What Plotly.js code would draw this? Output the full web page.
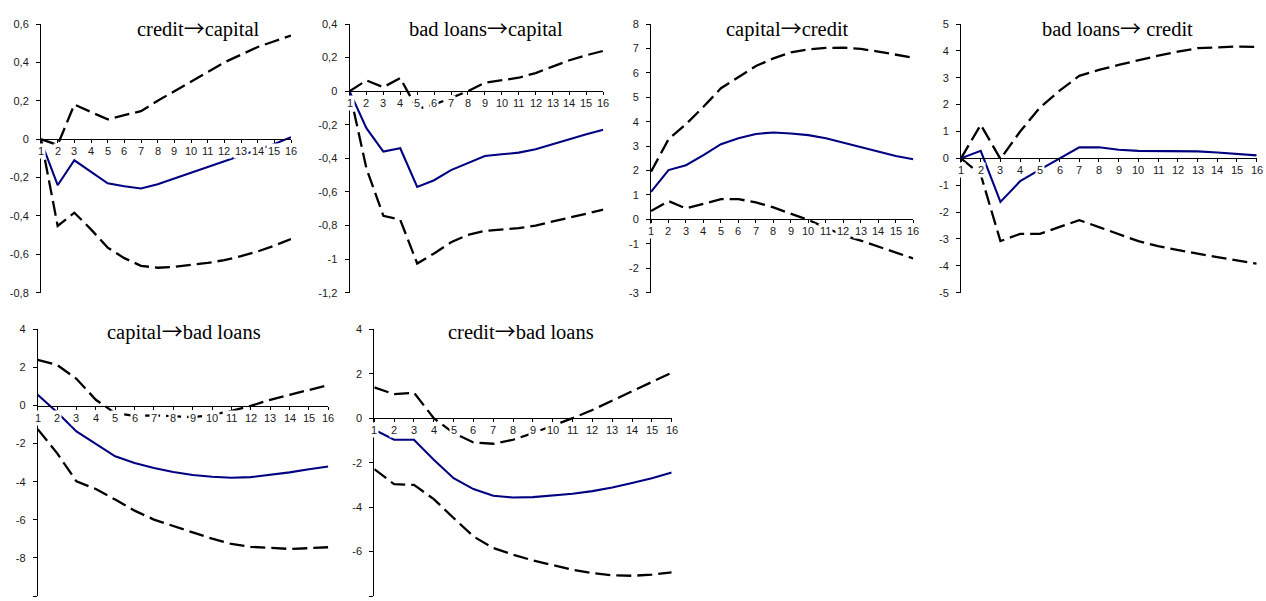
<!DOCTYPE html>
<html>
<head>
<meta charset="utf-8">
<script src="https://cdn.plot.ly/plotly-3.0.1.min.js"></script>
<style>
  html, body { margin: 0; padding: 0; background: #ffffff; }
  #chart { width: 1266px; height: 601px; }
</style>
</head>
<body>
<div id="chart"></div>
<script>
// Impulse responses over 16 periods: point estimate (solid) and confidence bands (dashed)
const periods = [1, 2, 3, 4, 5, 6, 7, 8, 9, 10, 11, 12, 13, 14, 15, 16];

// credit -> capital
const creditCapitalMid = [-0.01, -0.24, -0.11, -0.17, -0.23, -0.245, -0.257, -0.235, -0.205, -0.175, -0.145, -0.115, -0.085, -0.055, -0.025, 0.01];
const creditCapitalUp  = [0, -0.03, 0.18, 0.14, 0.103, 0.125, 0.146, 0.2, 0.25, 0.3, 0.35, 0.4, 0.44, 0.48, 0.51, 0.54];
const creditCapitalLo  = [0, -0.452, -0.383, -0.47, -0.565, -0.62, -0.66, -0.67, -0.665, -0.655, -0.645, -0.63, -0.61, -0.585, -0.555, -0.52];
const creditCapitalTicks = [0.6, 0.4, 0.2, 0, -0.2, -0.4, -0.6, -0.8];

// bad loans -> capital
const badCapitalMid = [0, -0.22, -0.36, -0.34, -0.57, -0.53, -0.47, -0.426, -0.386, -0.376, -0.366, -0.346, -0.316, -0.282, -0.256, -0.23];
const badCapitalUp  = [0, 0.064, 0.024, 0.078, -0.106, -0.08, -0.04, 0, 0.05, 0.064, 0.08, 0.108, 0.148, 0.184, 0.214, 0.24];
const badCapitalLo  = [0, -0.46, -0.742, -0.766, -1.026, -0.966, -0.9, -0.856, -0.832, -0.822, -0.816, -0.8, -0.776, -0.752, -0.73, -0.706];
const badCapitalTicks = [0.4, 0.2, 0, -0.2, -0.4, -0.6, -0.8, -1, -1.2];

// capital -> credit
const capitalCreditMid = [1.13, 2.02, 2.22, 2.63, 3.08, 3.32, 3.5, 3.56, 3.52, 3.45, 3.32, 3.14, 2.95, 2.77, 2.6, 2.46];
const capitalCreditUp  = [1.95, 3.28, 3.9, 4.61, 5.37, 5.82, 6.28, 6.59, 6.84, 6.96, 7.02, 7.03, 6.98, 6.87, 6.76, 6.62];
const capitalCreditLo  = [0.34, 0.75, 0.45, 0.63, 0.83, 0.83, 0.7, 0.49, 0.25, -0.02, -0.34, -0.65, -0.87, -1.12, -1.37, -1.6];
const capitalCreditTicks = [8, 7, 6, 5, 4, 3, 2, 1, 0, -1, -2, -3];

// bad loans -> credit
const badCreditMid = [0, 0.28, -1.62, -0.85, -0.42, 0, 0.41, 0.41, 0.32, 0.28, 0.27, 0.27, 0.26, 0.22, 0.17, 0.11];
const badCreditUp  = [0, 1.25, -0.02, 1.0, 1.89, 2.52, 3.07, 3.29, 3.48, 3.66, 3.82, 3.97, 4.1, 4.13, 4.16, 4.15];
const badCreditLo  = [0, -0.6, -3.08, -2.81, -2.81, -2.56, -2.3, -2.56, -2.83, -3.08, -3.27, -3.42, -3.55, -3.68, -3.79, -3.92];
const badCreditTicks = [5, 4, 3, 2, 1, 0, -1, -2, -3, -4, -5];

// capital -> bad loans
const capitalBadMid = [0.56, -0.35, -1.36, -2.0, -2.67, -3.02, -3.28, -3.49, -3.65, -3.74, -3.79, -3.76, -3.65, -3.51, -3.35, -3.2];
const capitalBadUp  = [2.39, 2.13, 1.4, 0.3, -0.4, -0.54, -0.52, -0.58, -0.61, -0.49, -0.28, -0.02, 0.3, 0.56, 0.8, 1.07];
const capitalBadLo  = [-1.24, -2.5, -3.98, -4.38, -4.94, -5.52, -5.99, -6.34, -6.66, -6.99, -7.27, -7.42, -7.49, -7.53, -7.49, -7.44];
const capitalBadTicks = [4, 2, 0, -2, -4, -6, -8, -10];

// credit -> bad loans
const creditBadMid = [-0.52, -0.97, -0.97, -1.87, -2.7, -3.19, -3.49, -3.57, -3.55, -3.49, -3.4, -3.28, -3.12, -2.92, -2.7, -2.44];
const creditBadUp  = [1.39, 1.08, 1.15, 0, -0.67, -1.09, -1.15, -0.97, -0.67, -0.34, 0, 0.37, 0.79, 1.2, 1.6, 2.05];
const creditBadLo  = [-2.29, -2.97, -3.0, -3.64, -4.49, -5.32, -5.84, -6.14, -6.4, -6.62, -6.82, -6.97, -7.07, -7.09, -7.04, -6.94];
const creditBadTicks = [4, 2, 0, -2, -4, -6, -8];

// headings: shock variable, arrow, responding variable
const arrow = '<span style="font-family:\'Noto Sans CJK SC\';font-size:21px">\u2192</span>';
const titles = ['credit' + arrow + 'capital', 'bad loans' + arrow + 'capital', 'capital' + arrow + 'credit',
                'bad loans' + arrow + ' credit', 'capital' + arrow + 'bad loans', 'credit' + arrow + 'bad loans'];

const panels = [
  { title: titles[0], mid: creditCapitalMid, up: creditCapitalUp, lo: creditCapitalLo, ticks: creditCapitalTicks },
  { title: titles[1], mid: badCapitalMid, up: badCapitalUp, lo: badCapitalLo, ticks: badCapitalTicks },
  { title: titles[2], mid: capitalCreditMid, up: capitalCreditUp, lo: capitalCreditLo, ticks: capitalCreditTicks },
  { title: titles[3], mid: badCreditMid, up: badCreditUp, lo: badCreditLo, ticks: badCreditTicks },
  { title: titles[4], mid: capitalBadMid, up: capitalBadUp, lo: capitalBadLo, ticks: capitalBadTicks },
  { title: titles[5], mid: creditBadMid, up: creditBadUp, lo: creditBadLo, ticks: creditBadTicks }
];

// Page geometry (pixels) for each small plot and its heading
const W = 1266, H = 601;
const boxes = [
  { left: 41,    right: 291,    top: 24,    bottom: 292.7, tx: 198,  ty: 27 },
  { left: 349.5, right: 603.3,  top: 24,    bottom: 292.7, tx: 486,  ty: 27 },
  { left: 651,   right: 913.3,  top: 24,    bottom: 292.7, tx: 787,  ty: 27 },
  { left: 961,   right: 1256.7, top: 24,    bottom: 292.7, tx: 1117, ty: 27 },
  { left: 37.7,  right: 328.3,  top: 329.3, bottom: 596,   tx: 184,  ty: 330 },
  { left: 374.3, right: 671.7,  top: 329.3, bottom: 596,   tx: 521,  ty: 330 }
];

const tickFont = { family: 'Liberation Sans, Arial, sans-serif', size: 11, color: '#1a1a1a' };
const titleFont = { family: 'Liberation Serif, Times New Roman, serif', size: 20.5, color: '#000000' };
const dashStyle = '15px,6px';

const traces = [];
const layout = {
  width: W, height: H,
  margin: { l: 0, r: 0, t: 0, b: 0 },
  paper_bgcolor: '#ffffff', plot_bgcolor: 'rgba(0,0,0,0)',
  showlegend: false,
  hovermode: false,
  annotations: []
};

const fmt = v => String(v).replace('.', ',');

panels.forEach((p, i) => {
  const n = i + 1;
  const b = boxes[i];
  const xa = 'x' + (n === 1 ? '' : n), ya = 'y' + (n === 1 ? '' : n);
  const xKey = 'xaxis' + (n === 1 ? '' : n), yKey = 'yaxis' + (n === 1 ? '' : n);
  const yMax = Math.max(...p.ticks), yMin = Math.min(...p.ticks);
  const yDom = [1 - b.bottom / H, 1 - b.top / H];
  // horizontal axis sits at the zero level of the vertical axis
  const zeroPos = yDom[0] + (0 - yMin) / (yMax - yMin) * (yDom[1] - yDom[0]);

  layout[xKey] = {
    domain: [b.left / W, b.right / W],
    range: [periods[0], periods[periods.length - 1]],
    anchor: 'free', position: zeroPos,
    showline: true, linecolor: '#000000', linewidth: 1,
    ticks: 'outside', ticklen: 3, tickcolor: '#000000', tickwidth: 1,
    tickmode: 'array', tickvals: periods,
    showticklabels: false, showgrid: false, zeroline: false, fixedrange: true
  };
  layout[yKey] = {
    domain: yDom,
    range: [yMin, yMax],
    anchor: xa,
    showline: true, linecolor: '#000000', linewidth: 1,
    ticks: 'outside', ticklen: 4, tickcolor: '#000000', tickwidth: 1,
    tickmode: 'array', tickvals: p.ticks, ticktext: p.ticks.map(fmt),
    ticklabelstandoff: 5,
    tickfont: tickFont,
    showgrid: false, zeroline: false, fixedrange: true
  };

  traces.push({ x: periods, y: p.up, xaxis: xa, yaxis: ya, type: 'scatter', mode: 'lines',
                line: { color: '#000000', width: 2.3, dash: dashStyle } });
  traces.push({ x: periods, y: p.lo, xaxis: xa, yaxis: ya, type: 'scatter', mode: 'lines',
                line: { color: '#000000', width: 2.3, dash: dashStyle } });
  traces.push({ x: periods, y: p.mid, xaxis: xa, yaxis: ya, type: 'scatter', mode: 'lines',
                line: { color: '#000080', width: 2.1 } });

  // period labels on a white ground, sitting on the zero line
  periods.forEach(k => {
    layout.annotations.push({
      x: k, y: 0, xref: xa, yref: ya,
      text: String(k), showarrow: false,
      xanchor: 'center', yanchor: 'top', yshift: -4,
      bgcolor: '#ffffff', borderpad: 1,
      font: tickFont
    });
  });

  layout.annotations.push({
    x: b.tx / W, y: 1 - b.ty / H, xref: 'paper', yref: 'paper',
    text: p.title, showarrow: false,
    xanchor: 'center', yanchor: 'middle',
    font: titleFont
  });
});

Plotly.newPlot('chart', traces, layout, { staticPlot: true, displayModeBar: false });
</script>
</body>
</html>
